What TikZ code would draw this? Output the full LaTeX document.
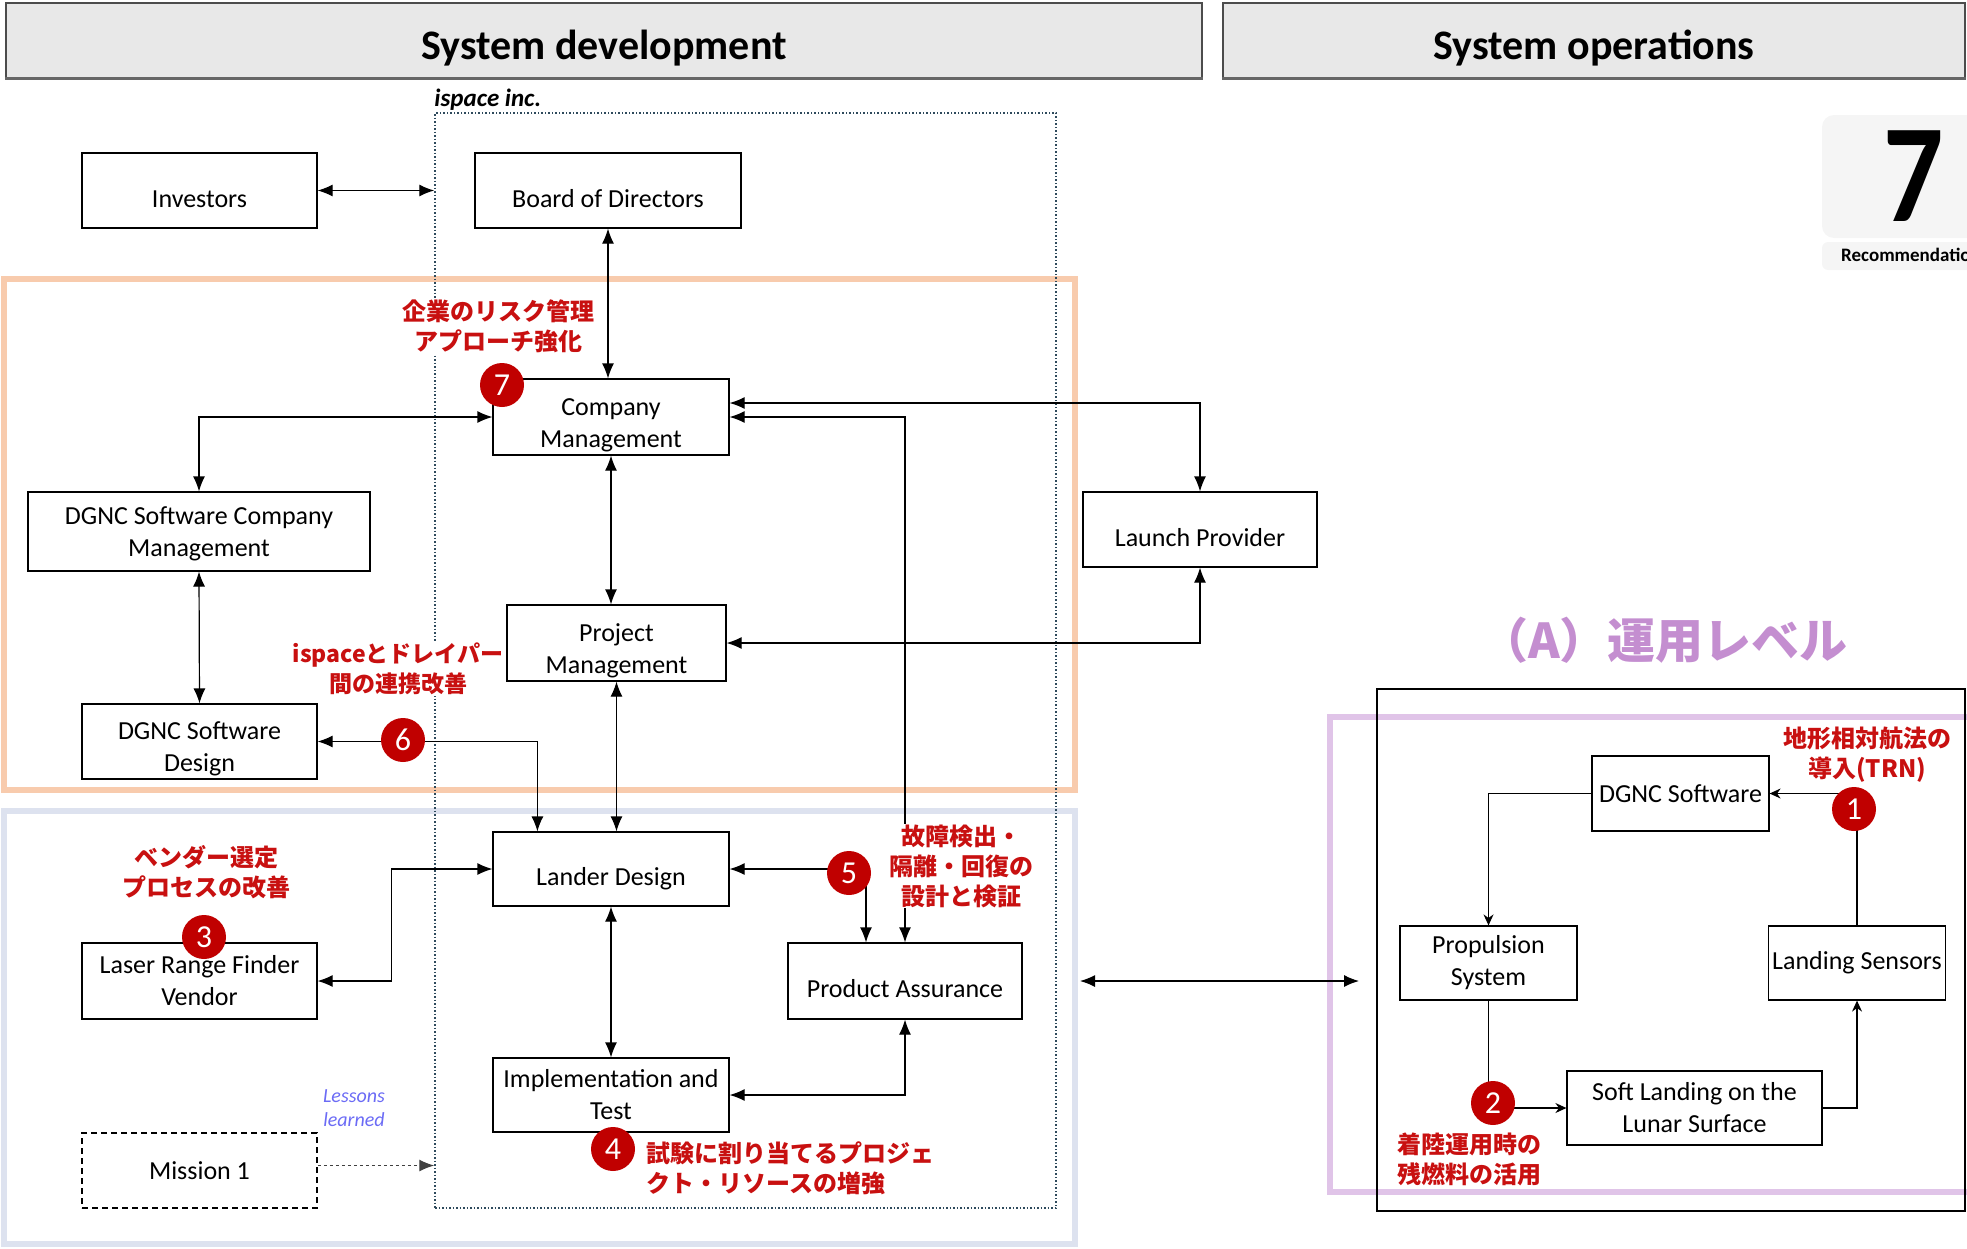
\documentclass[tikz,border=0pt]{standalone}
\usepackage{fontspec}
\setmainfont{Carlito}
\newfontfamily\jpfont{Noto Sans CJK JP}
\usetikzlibrary{arrows.meta,positioning}
\definecolor{jpred}{HTML}{C81010}
\definecolor{badgered}{HTML}{C00000}
\definecolor{orgline}{HTML}{F8CBAD}
\definecolor{devline}{HTML}{DDE2EF}
\definecolor{opsline}{HTML}{E0C4E8}
\definecolor{lvlpurple}{HTML}{C48ED0}
\definecolor{lessonblue}{HTML}{6B6BF5}
\definecolor{hdrgray}{HTML}{E8E8E8}
\definecolor{ispdot}{HTML}{2E4A5C}
\begin{document}
\begin{tikzpicture}[x=1pt,y=-1pt,
    box/.style={draw,line width=1.2pt,align=center,font=\fontsize{26}{32}\selectfont},
    lowtext/.style={inner ysep=0pt,execute at begin node={\rule{0pt}{#1}},
      execute at end node={\rule[-5pt]{0pt}{0pt}}},
    lowtext/.default=38pt,
    hdr/.style={draw=black!70,fill=hdrgray,line width=1.2pt,minimum height=75pt,
      text height=37pt,text depth=0pt,font=\bfseries\fontsize{42}{48}\selectfont},
    note/.style={font=\jpfont\bfseries\fontsize{24}{30}\selectfont,text=jpred,
      fill=white,align=center,inner sep=1pt},
    badge/.style={circle,fill=badgered,text=white,minimum size=44pt,inner sep=0pt,
      font=\fontsize{32}{32}\selectfont},
    link/.style={line width=1.2pt,{Latex[length=15pt,width=12pt]}-{Latex[length=15pt,width=12pt]}},
    oplink/.style={line width=1.2pt,-{Stealth[length=11pt,width=10pt]}}]
  \useasboundingbox (0,0) rectangle (1967,1248);

  % headers
  \node[hdr,minimum width=1196pt] (hdev) at (604,40.5) {System development};
  \node[hdr,minimum width=742pt] (hops) at (1594,40.5) {System operations};
  \draw[line width=3pt,black!60] (hdev.south west) -- (hdev.south east);
  \draw[line width=3pt,black!60] (hops.south west) -- (hops.south east);

  % recommendation card
  \fill[black!4,rounded corners=12pt] (1822,115) rectangle (2000,238);
  \fill[black!4,rounded corners=6pt] (1822,242) rectangle (2000,270);
  \node[inner sep=0pt,font=\bfseries\fontsize{140}{140}\selectfont] (rec7) at (1914,176) {\scalebox{0.85}[1]{7}};
  \node[anchor=west,font=\bfseries\fontsize{19}{19}\selectfont,inner sep=0pt] (recl) at (1841,255) {Recommendation};

  % frames
  \draw[orgline,line width=6pt] (4,279) rectangle (1075,790);
  \draw[devline,line width=6pt] (4,811) rectangle (1075,1244);
  \draw[opsline,line width=6pt] (1330,717) rectangle (1990,1192);
  \draw[line width=1.2pt] (1377,689) rectangle (1965,1211);
  \node[font=\jpfont\bfseries\fontsize{48}{48}\selectfont,text=lvlpurple] (lvl) at (1664,640) {（A）運用レベル};

  \node[draw=ispdot,dotted,line width=1.5pt,minimum width=621pt,minimum height=1095pt] (isp) at (745.5,660.5) {};
  \node[anchor=south west,inner sep=0pt,font=\bfseries\itshape\fontsize{25}{25}\selectfont] (ispl)
    at ([yshift=2pt]isp.north west) {ispace inc.};

  % system development
  \node[box,lowtext,minimum width=235pt,minimum height=75pt] (inv) at (199.5,190.5) {Investors};
  \node[box,lowtext,minimum width=266pt,minimum height=75pt] (bod) at (608,190.5) {Board of Directors};
  \node[box,lowtext=65pt,minimum width=236pt,minimum height=76pt] (cm) at (611,417) {Company\\Management};
  \node[box,lowtext=55pt,minimum width=342pt,minimum height=79pt] (dscm) at (199,531.5) {DGNC Software Company\\Management};
  \node[box,lowtext,minimum width=234pt,minimum height=75pt] (lp) at (1200,529.5) {Launch Provider};
  \node[box,lowtext=65pt,minimum width=219pt,minimum height=76pt] (pm) at (616.5,643) {Project\\Management};
  \node[box,lowtext=65pt,minimum width=235pt,minimum height=75pt] (dsd) at (199.5,741.5) {DGNC Software\\Design};
  \node[box,lowtext,minimum width=236pt,minimum height=74pt] (ld) at (611,869) {Lander Design};
  \node[box,minimum width=235pt,minimum height=76pt] (lrf) at (199.5,981) {Laser Range Finder\\Vendor};
  \node[box,lowtext,minimum width=234pt,minimum height=76pt] (pa) at (905,981) {Product Assurance};
  \node[box,minimum width=236pt,minimum height=74pt] (it) at (611,1095) {Implementation and\\Test};
  \node[box,dashed,dash pattern=on 6pt off 4pt,line width=1.8pt,minimum width=235pt,minimum height=75pt]
    (m1) at (199.5,1170.5) {Mission 1};
  \node[font=\itshape\fontsize{20}{24}\selectfont,text=lessonblue,align=center] (less) at (354,1108) {Lessons\\learned};

  \draw[link] (inv.east) -- (inv.east -| isp.west);
  \draw[link] (bod.south) -- (bod.south |- cm.north);
  \draw[link] (cm.west) -| (dscm.north);
  \draw[link] (cm.south) -- (cm.south |- pm.north);
  \draw[link] ([yshift=14pt]cm.east) -| (lp.north);
  \draw[link] (cm.east) -| (pa.north);
  \draw[link] (pm.east) -| (lp.south);
  \draw[link] (dscm.south) -- (dsd.north);
  \draw[link] (pm.south) -- (pm.south |- ld.north);
  \draw[link] (dsd.east) -| ([xshift=45pt]ld.north west);
  \draw[link] (lrf.east) -- ++(74,0) |- (ld.west);
  \draw[link] (ld.east) -| ([xshift=-39pt]pa.north);
  \draw[link] (ld.south) -- (it.north);
  \draw[link] (it.east) -| (pa.south);
  \draw[dashed,line width=1.2pt,black!75,-{Latex[length=15pt,width=12pt]}] ([yshift=5pt]m1.east) -- ([yshift=5pt]m1.east -| isp.west);

  \coordinate (devr) at (1080,981);
  \coordinate (opsl) at (1359,981);
  \draw[link] (devr) -- (opsl);

  % system operations
  \node[box,minimum width=177pt,minimum height=75pt] (dgnc) at (1680.5,793.5) {DGNC Software};
  \node[box,minimum width=177pt,minimum height=74pt] (prop) at (1488.5,963) {Propulsion\\System};
  \node[box,minimum width=176pt,minimum height=74pt] (ls) at (1857,963) {Landing Sensors};
  \node[box,minimum width=255pt,minimum height=74pt] (sl) at (1694.5,1108) {Soft Landing on the\\Lunar Surface};
  \draw[oplink] (ls.north) |- (dgnc.east);
  \draw[oplink] (dgnc.west) -| (prop.north);
  \draw[oplink] (prop.south) |- (sl.west);
  \draw[oplink] (sl.east) -| (ls.south);

  % recommendations
  \node[note] (n7) at (498,326) {企業のリスク管理\\アプローチ強化};
  \node[note,font=\jpfont\bfseries\fontsize{23}{30}\selectfont] (n6) at (398,669) {ispaceとドレイパー\\間の連携改善};
  \node[note] (n3) at (206,872) {ベンダー選定\\プロセスの改善};
  \node[note] (n5) at (961,866) {故障検出・\\隔離・回復の\\設計と検証};
  \node[note,anchor=west,align=left] (n4) at (645,1168) {試験に割り当てるプロジェ\\クト・リソースの増強};
  \node[note,fill=none] (n1) at (1867,755) {地形相対航法の\\導入(TRN)};
  \node[note,fill=none] (n2) at (1469,1159) {着陸運用時の\\残燃料の活用};

  \node[badge] (b1) at (1854,809) {1};
  \node[badge] (b2) at (1493,1103) {2};
  \node[badge] (b3) at (204,937) {3};
  \node[badge] (b4) at (613,1149) {4};
  \node[badge] (b5) at (849,873) {5};
  \node[badge] (b6) at (403,740) {6};
  \node[badge] (b7) at (502,385) {7};
\end{tikzpicture}
\end{document}
